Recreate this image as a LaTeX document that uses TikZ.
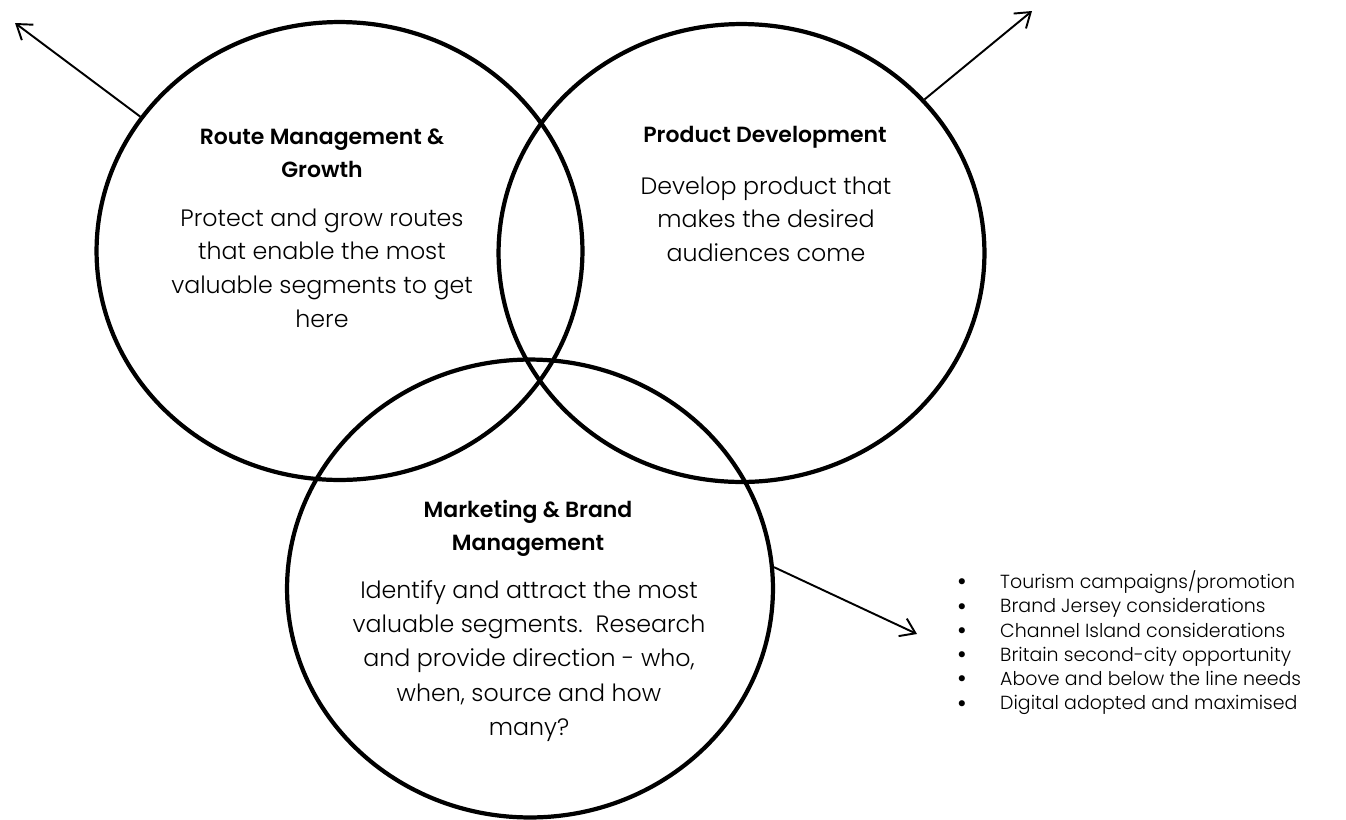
\documentclass[tikz,border=0pt]{standalone}
\usepackage{fontspec}
\setmainfont{Poppins}[UprightFont={* Light}, BoldFont={* SemiBold}]
\usetikzlibrary{shapes.geometric,arrows.meta}

\newcommand\dotmark{\smash{\raisebox{-1.2pt}{\fontsize{15}{15}\selectfont\textbullet}}}

\tikzset{
  ring/.style={draw, ellipse, line width=2.4pt, inner sep=0pt,
    minimum width=9.72cm, minimum height=9.16cm},
  pointer/.style={line width=1.1pt, -{Straight Barb[length=8pt,width=11pt]}},
  heading/.style={align=center, font=\bfseries\fontsize{12.5}{18.7}\selectfont},
  blurb/.style={align=center, font=\fontsize{13.5}{19.1}\selectfont},
}

\begin{document}
\begin{tikzpicture}[x=0.02cm,y=-0.02cm]

        \useasboundingbox (0,0) rectangle (1346,819);

        % the three rings
        \begin{scope}[every node/.style={ring}]
          \node (route)     at (339.5,251) {};
          \node (product)   at (741.5,253) {};
          \node (marketing) at (530,588.5) {};
        \end{scope}

        % texts inside the rings
        \node[heading] (routehead) at (322,153) {Route Management \&\\Growth};
        \node[blurb]   (routetext) at (322,268) {Protect and grow routes\\that enable the most\\valuable segments to get\\here};

        \node[heading] (producthead) at (765,137) {Product Development};
        \node[blurb]   (producttext) at (766,219) {Develop product that\\makes the desired\\audiences come};

        \node[heading] (marketinghead) at (528,528) {Marketing \& Brand\\Management};
        \node[blurb, font=\fontsize{13.5}{19.4}\selectfont] (marketingtext) at (529,661) {Identify and attract the most\\valuable segments.\ \ Research\\and provide direction - who,\\when, source and how\\many?};

        % list of marketing actions
        \node[anchor=west, font=\fontsize{10.8}{13.8}\selectfont] (actions) at (951,644) {%
          \begin{tabular}{@{}l@{\hspace{19pt}}l@{}}
            \dotmark & Tourism campaigns/promotion\\
            \dotmark & Brand Jersey considerations\\
            \dotmark & Channel Island considerations\\
            \dotmark & Britain second-city opportunity\\
            \dotmark & Above and below the line needs\\
            \dotmark & Digital adopted and maximised
          \end{tabular}};

        \coordinate (routetip)     at (15,23);
        \coordinate (producttip)   at (1032,11);
        \coordinate (marketingtip) at (917,634);

        \draw[pointer] (route.146)    -- (routetip);
        \draw[pointer] (product.40)   -- (producttip);
        \draw[pointer] (marketing.5)  -- (marketingtip);

\end{tikzpicture}
\end{document}
